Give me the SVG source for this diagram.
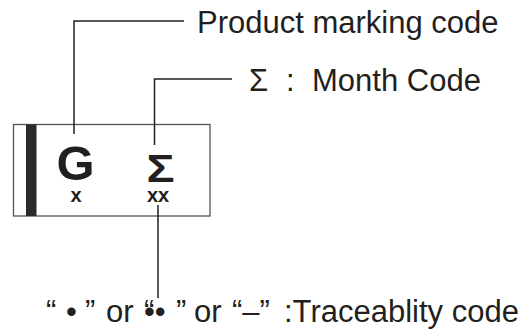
<svg xmlns="http://www.w3.org/2000/svg" width="528" height="333" viewBox="0 0 528 333">
<style>
.lbl{font-family:"Liberation Sans",Arial,sans-serif;font-size:31px;fill:#231f20}
.mk{font-family:"Liberation Sans",Arial,sans-serif;font-weight:bold;fill:#231f20}
.ln{fill:none;stroke:#231f20;stroke-width:1.5}
</style>
<rect width="528" height="333" fill="#fff"/>
<g id="package">
<rect x="13.5" y="124.5" width="196.5" height="91.5" fill="#fff" stroke="#555" stroke-width="1.3"/>
<rect x="26" y="124.5" width="10.5" height="91.5" fill="#2b2b2b"/>
</g>
<g id="mark-G"><text class="mk" x="75.5" y="180" font-size="49" text-anchor="middle">G</text>
<text class="mk" x="76" y="202" font-size="20" text-anchor="middle">x</text></g>
<g id="mark-sigma"><text class="mk" font-size="39" text-anchor="middle" transform="translate(160.5,182) scale(1.2,1)">Σ</text>
<text class="mk" x="158" y="202" font-size="20" text-anchor="middle">xx</text></g>
<g id="label-product"><text class="lbl" x="197" y="33">Product marking code</text></g>
<g id="label-month"><text class="lbl" y="91"><tspan x="249">Σ</tspan><tspan x="286">:</tspan><tspan x="312">Month Code</tspan></text></g>
<g id="label-trace"><text class="lbl" y="322"><tspan x="46">“</tspan><tspan x="66">•</tspan><tspan x="85">”</tspan><tspan x="106">or</tspan><tspan x="144">“</tspan><tspan x="144">••</tspan><tspan x="176">”</tspan><tspan x="194">or</tspan><tspan x="232">“–”</tspan><tspan x="284">:Traceablity code</tspan></text></g>
<g id="connectors">
<polyline class="ln" points="74,134 74,21 184,21"/>
<polyline class="ln" points="154.5,145 154.5,79 232,79"/>
<line class="ln" x1="158" y1="205" x2="158" y2="298"/>
</g>
</svg>
